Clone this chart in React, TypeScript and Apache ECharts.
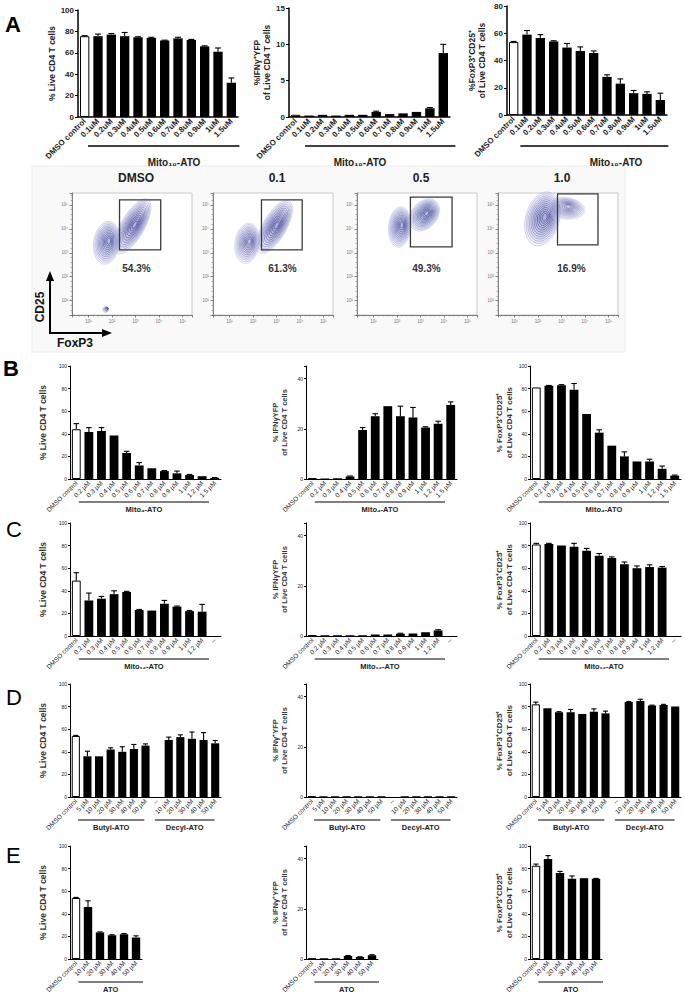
import React, { useEffect, useRef } from "react";
import * as echarts from "echarts";

const FONT = "'Liberation Sans', Arial, Helvetica, sans-serif";

// ---------- Panel A data ----------
const A_CATS = ["DMSO control", "0.1uM", "0.2uM", "0.3uM", "0.4uM", "0.5uM", "0.6uM", "0.7uM", "0.8uM", "0.9uM", "1uM", "1.5uM"];
const A_LIVE = [75.5, 75.5, 77, 75.5, 74.5, 74, 71.5, 73.5, 72, 66, 61, 32];
const A_LIVE_ERR = [0.5, 2, 1, 3.5, 0.5, 0.5, 0.3, 1, 0.5, 0.5, 3.5, 4.5];
const A_IFN = [0.3, 0.2, 0.3, 0.2, 0.3, 0.3, 0.7, 0.4, 0.5, 0.7, 1.2, 8.8];
const A_IFN_ERR = [0, 0, 0, 0, 0, 0, 0.1, 0, 0, 0, 0.1, 1.2];
const A_TREG = [53.5, 59, 56.5, 54, 49.5, 47, 45.5, 28, 23, 16, 15.5, 11];
const A_TREG_ERR = [0.5, 3, 2.5, 0.5, 3, 3, 1.5, 1.5, 3.5, 2, 1.5, 5];

// ---------- Panel B (Mito4-ATO) ----------
const B_CATS = ["DMSO control", "0.2 µM", "0.3 µM", "0.4 µM", "0.5 µM", "0.6 µM", "0.7 µM", "0.8 µM", "0.9 µM", "1 µM", "1.2 µM", "1.5 µM"];
const B_LIVE = [44, 41.5, 42.5, 38.5, 23, 12, 9.5, 7, 5, 3.5, 2.5, 1];
const B_LIVE_ERR = [5, 4, 3, 0, 1.5, 2.5, 0, 0.5, 2, 0.5, 0, 0.3];
const B_IFN = [0.3, 0.2, 0.3, 1, 19.5, 25, 29, 25, 24.5, 20.5, 22, 29.5];
const B_IFN_ERR = [0, 0, 0, 0.2, 1, 1, 0, 4, 4, 0.3, 1, 1.2];
const B_TREG = [81, 82.5, 83, 79, 57.5, 41, 29.5, 20, 15.5, 15.5, 9, 3];
const B_TREG_ERR = [0, 0.3, 0.5, 5.5, 0, 2.5, 0, 4, 0, 2, 2.5, 0.5];

// ---------- Panel C (Mito12-ATO) ----------
const C_CATS = ["DMSO control", "0.2 µM", "0.3 µM", "0.4 µM", "0.5 µM", "0.6 µM", "0.7 µM", "0.8 µM", "0.9 µM", "1 µM", "1.2 µM", "--"];
const C_LIVE = [49, 31.5, 33, 37, 39, 23, 22.5, 28.5, 26, 22, 21.5, null];
const C_LIVE_ERR = [7, 6.5, 2, 3, 0.5, 0.5, 0, 3, 0.5, 0.5, 6.5, null];
const C_IFN = [0.3, 0.3, 0.3, 0.3, 0.3, 0.6, 0.6, 0.9, 1, 1.5, 2.2, null];
const C_IFN_ERR = [0, 0, 0, 0, 0, 0, 0, 0.2, 0, 0, 0.3, null];
const C_TREG = [81, 81.5, 80, 79, 75.5, 71, 69, 63.5, 60, 61, 60.5, null];
const C_TREG_ERR = [1, 0.5, 0, 3, 2, 2, 1, 2, 2, 2, 1, null];

// ---------- Panel D (Butyl-ATO / Decyl-ATO) ----------
const D_CATS = ["DMSO control", "5 µM", "10 µM", "20 µM", "30 µM", "40 µM", "50 µM", "--", "10 µM", "20 µM", "30 µM", "40 µM", "50 µM"];
const D_LIVE = [54, 36, 36, 42, 40, 42.5, 45.5, null, 50.5, 53, 51.5, 50.5, 47.5];
const D_LIVE_ERR = [0.5, 4.5, 0, 1.5, 4.5, 4, 1.5, null, 2.5, 2, 6, 6.5, 2.5];
const D_IFN = [0.2, 0.3, 0.3, 0.3, 0.3, 0.3, 0.3, null, 0.3, 0.3, 0.3, 0.3, 0.3];
const D_IFN_ERR = [0, 0, 0, 0, 0, 0, 0, null, 0, 0, 0, 0, 0];
const D_TREG = [82, 78.5, 75, 75, 73.5, 75.5, 74, null, 84, 85, 81, 81.5, 80];
const D_TREG_ERR = [2, 0, 0.5, 2.5, 0, 2.5, 2, null, 0.5, 1.5, 0.3, 0.5, 0];

// ---------- Panel E (ATO) ----------
const E_CATS = ["DMSO control", "10 µM", "20 µM", "30 µM", "40 µM", "50 µM"];
const E_LIVE = [54, 46, 23.5, 21, 22, 19];
const E_LIVE_ERR = [0.5, 5.5, 0.5, 0.5, 0.5, 1.5];
const E_IFN = [0.1, 0.3, 0.3, 1.2, 0.8, 1.5];
const E_IFN_ERR = [0, 0, 0, 0.2, 0.1, 0.2];
const E_TREG = [82.5, 88.5, 76, 71, 71.5, 71];
const E_TREG_ERR = [1.5, 3, 1.5, 2.5, 0, 0.3];

// ---------- Flow cytometry (FoxP3 vs CD25, log10 units) ----------
const FLOW_TITLES = ["DMSO", "0.1", "0.5", "1.0"];
const FLOW_PCT = [54.3, 61.3, 49.3, 16.9];
// gate: [xMin, yMin, xMax, yMax, labelX, labelY]
const FLOW_GATES = [
  [2.32, 3.12, 4.07, 5.21, 3.04, 2.33],
  [2.36, 3.12, 4.09, 5.21, 3.25, 2.33],
  [2.57, 3.25, 4.34, 5.33, 3.25, 2.33],
  [2.83, 3.33, 4.55, 5.46, 3.42, 2.33],
];
// populations: [cx, cy, spreadX, spreadY, tiltDeg, density]
const FLOW_POPS_DMSO = [[1.77, 3.42, 0.55, 0.9, 8, 1], [2.87, 4.1, 0.5, 1.3, 30, 1.2], [1.72, 0.62, 0.12, 0.12, 0, 0.3]];
const FLOW_POPS_01 = [[1.75, 3.4, 0.52, 0.85, 8, 0.8], [2.91, 4.08, 0.5, 1.25, 30, 1.2]];
const FLOW_POPS_05 = [[2.11, 4.08, 0.47, 0.85, 5, 1], [3.16, 4.58, 0.55, 0.75, 40, 1.1]];
const FLOW_POPS_10 = [[2.19, 4.42, 0.72, 1.15, 15, 1.2], [3.2, 4.86, 0.8, 0.45, 8, 0.55]];
const FLOW_POPS = [FLOW_POPS_DMSO, FLOW_POPS_01, FLOW_POPS_05, FLOW_POPS_10];

const SUP = ["⁰", "¹", "²", "³", "⁴", "⁵", "⁶"];

type Panel = {
  left: number; top: number; width: number; height: number;
  cats: string[]; vals: (number | null)[]; errs: (number | null)[];
  yMax: number; yInterval: number; yName: string; nameGap: number; nameSize: number; big: boolean;
  groups: { s: number; e: number; text: string; lx?: number }[];
};

const ROW_BOTTOM = { B: 479, C: 636, D: 797, E: 959 };
const H = 113;
const COL_LEFT = [70, 306, 530];
const LIVE_NAME = "% Live CD4 T cells";
const IFN_NAME_PLAIN = "% IFNγYFP\nof Live CD4 T cells";
const IFN_NAME_SUP = "% IFNγ⁺YFP\nof Live CD4 T cells";
const TREG_NAME = "% FoxP3⁺CD25⁺\nof Live CD4 T cells";

function rowPanels(bottom: number, cats: string[], width: number, sets: [number | null, number | null][][], ifnName: string, groups: { s: number; e: number; text: string }[]): Panel[] {
  const names = [LIVE_NAME, ifnName, TREG_NAME];
  const maxes = [100, 45, 100];
  const gaps = [22, 17, 16];
  const sizes = [8.5, 7.5, 8];
  return sets.map((set, i) => ({
    left: COL_LEFT[i], top: bottom - H, width, height: H,
    cats, vals: set.map((d) => d[0]), errs: set.map((d) => d[1]),
    yMax: maxes[i], yInterval: 20, yName: names[i], nameGap: gaps[i], nameSize: sizes[i], big: false, groups,
  }));
}
const zip = (a: (number | null)[], b: (number | null)[]) => a.map((v, i) => [v, b[i]] as [number | null, number | null]);

const PANELS: Panel[] = [
  { left: 78, top: 10, width: 160, height: 107, cats: A_CATS, vals: A_LIVE, errs: A_LIVE_ERR, yMax: 100, yInterval: 20, yName: "% Live CD4 T cells", nameGap: 21, nameSize: 8.5, big: true, groups: [{ s: 0.75, e: 12.1, text: "Mito₁₀-ATO", lx: 174 }] },
  { left: 289, top: 8, width: 161, height: 109, cats: A_CATS, vals: A_IFN, errs: A_IFN_ERR, yMax: 15, yInterval: 5, yName: "%IFNγ⁺YFP\nof Live CD4 T cells", nameGap: 12, nameSize: 8.5, big: true, groups: [{ s: 1.2, e: 12.4, text: "Mito₁₀-ATO", lx: 360 }] },
  { left: 507, top: 6, width: 160, height: 109, cats: A_CATS, vals: A_TREG, errs: A_TREG_ERR, yMax: 80, yInterval: 20, yName: "%FoxP3⁺CD25⁺\nof Live CD4 T cells", nameGap: 20, nameSize: 8.5, big: true, groups: [{ s: 1.0, e: 12.1, text: "Mito₁₀-ATO", lx: 616 }] },
  ...rowPanels(ROW_BOTTOM.B, B_CATS, 151, [zip(B_LIVE, B_LIVE_ERR), zip(B_IFN, B_IFN_ERR), zip(B_TREG, B_TREG_ERR)], IFN_NAME_PLAIN, [{ s: 0.7, e: 11.05, text: "Mito₄-ATO" }]),
  ...rowPanels(ROW_BOTTOM.C, C_CATS, 151, [zip(C_LIVE, C_LIVE_ERR), zip(C_IFN, C_IFN_ERR), zip(C_TREG, C_TREG_ERR)], IFN_NAME_PLAIN, [{ s: 0.7, e: 11.05, text: "Mito₁₂-ATO" }]),
  ...rowPanels(ROW_BOTTOM.D, D_CATS, 151, [zip(D_LIVE, D_LIVE_ERR), zip(D_IFN, D_IFN_ERR), zip(D_TREG, D_TREG_ERR)], IFN_NAME_SUP, [{ s: 0.7, e: 6.4, text: "Butyl-ATO" }, { s: 7.3, e: 12.45, text: "Decyl-ATO" }]),
  ...rowPanels(ROW_BOTTOM.E, E_CATS, 72, [zip(E_LIVE, E_LIVE_ERR), zip(E_IFN, E_IFN_ERR), zip(E_TREG, E_TREG_ERR)], IFN_NAME_SUP, [{ s: 0.7, e: 6.08, text: "ATO" }]),
];

const FLOW_LEFTS = [72, 213, 357, 498];
const FLOW_TOP = 193;
const FLOW_W = 120;
const FLOW_H = 122;

function errRender(_p: any, api: any) {
  const x = api.value(0), v = api.value(1), e = api.value(2);
  const p0 = api.coord([x, v]);
  const p1 = api.coord([x, v + e]);
  const hw = api.size([1, 0])[0] * 0.22;
  const st = { stroke: "#000", lineWidth: 1.1 };
  return {
    type: "group",
    children: [
      { type: "line", shape: { x1: p0[0], y1: p0[1], x2: p1[0], y2: p1[1] }, style: st },
      { type: "line", shape: { x1: p1[0] - hw, y1: p1[1], x2: p1[0] + hw, y2: p1[1] }, style: st },
    ],
  };
}

function mix(a: number[], b: number[], t: number) {
  return a.map((v, i) => Math.round(v + (b[i] - v) * t));
}

function contourRender(_p: any, api: any) {
  const cx = api.value(0), cy = api.value(1), a = api.value(2), b = api.value(3), rot = api.value(4), w = api.value(5);
  const c = api.coord([cx, cy]);
  const rx = Math.abs(api.size([a, 0])[0]);
  const ry = Math.abs(api.size([0, b])[1]);
  const n = 12;
  const children: any[] = [];
  const light = [190, 194, 232];
  const dark = [66, 70, 148];
  for (let k = 0; k < n; k++) {
    const t = k / (n - 1);
    const s = 1 - t * 0.86;
    const col = mix(light, dark, Math.min(1, t * 1.3));
    const alpha = Math.min(1, 0.45 + 0.5 * w);
    children.push({
      type: "ellipse",
      x: c[0] + k * 0.2,
      y: c[1] - k * 0.15,
      rotation: (-rot * Math.PI) / 180,
      shape: { cx: 0, cy: 0, rx: rx * s, ry: ry * s },
      style: { fill: `rgba(125,130,200,${(0.06 * w).toFixed(3)})`, stroke: `rgba(${col[0]},${col[1]},${col[2]},${alpha.toFixed(2)})`, lineWidth: 0.6 },
    });
  }
  return { type: "group", children };
}

function gateRender(_p: any, api: any) {
  const x1 = api.value(0), y1 = api.value(1), x2 = api.value(2), y2 = api.value(3), lx = api.value(4), ly = api.value(5), pct = api.value(6);
  const tl = api.coord([x1, y2]);
  const br = api.coord([x2, y1]);
  const lp = api.coord([lx, ly]);
  return {
    type: "group",
    children: [
      { type: "rect", shape: { x: tl[0], y: tl[1], width: br[0] - tl[0], height: br[1] - tl[1] }, style: { fill: "none", stroke: "#3a3a3a", lineWidth: 1.3 } },
      {
        type: "text", x: lp[0], y: lp[1],
        style: { text: pct.toFixed(1) + "%", fill: "#333", font: `bold 10px ${FONT}`, align: "center", verticalAlign: "middle" },
      },
    ],
  };
}

function buildOption() {
  const grid: any[] = [];
  const xAxis: any[] = [];
  const yAxis: any[] = [];
  const series: any[] = [];
  const graphic: any[] = [];

  // flow background
  graphic.push({ type: "rect", z: -10, shape: { x: 32, y: 166, width: 593, height: 186 }, style: { fill: "#f9f9f9", stroke: "#ededed", lineWidth: 1 } });

  PANELS.forEach((p, i) => {
    const big = p.big;
    grid.push({ left: p.left, top: p.top, width: p.width, height: p.height });
    xAxis.push({
      type: "category", gridIndex: i, data: p.cats, boundaryGap: true,
      axisLine: { lineStyle: { color: "#000", width: big ? 1.5 : 1 } },
      axisTick: { alignWithLabel: true, length: big ? 3 : 2, lineStyle: { color: "#000" } },
      axisLabel: { interval: 0, rotate: 45, margin: 3, fontSize: big ? 8 : 6.5, fontWeight: big ? "bold" : "normal", color: "#222", fontFamily: FONT },
      splitLine: { show: false },
    });
    yAxis.push({
      type: "value", gridIndex: i, min: 0, max: p.yMax, interval: p.yInterval,
      splitLine: { show: false },
      axisLine: { show: true, lineStyle: { color: "#000", width: big ? 1.5 : 1 } },
      axisTick: { show: true, length: big ? 3 : 2, lineStyle: { color: "#000" } },
      axisLabel: {
        fontSize: big ? 8 : 5, fontWeight: big ? "bold" : "normal", color: "#222", margin: big ? 4 : 3, fontFamily: FONT,
        formatter: (v: number) => (v % p.yInterval === 0 ? String(v) : ""),
      },
      name: p.yName, nameLocation: "middle", nameGap: p.nameGap,
      nameTextStyle: { fontSize: p.nameSize, fontWeight: "bold", color: big ? "#222" : "#333", fontFamily: FONT, lineHeight: big ? 10 : p.nameSize + 1.5 },
    });
    series.push({
      type: "bar", xAxisIndex: i, yAxisIndex: i, barWidth: "70%", silent: true,
      data: p.vals.map((v, j) =>
        v == null ? "-" : { value: v, itemStyle: j === 0 ? { color: "#fff", borderColor: "#000", borderWidth: 1 } : { color: "#000" } }
      ),
    });
    series.push({
      type: "custom", xAxisIndex: i, yAxisIndex: i, z: 5, silent: true,
      renderItem: errRender,
      data: p.errs.map((e, j) => [j, p.vals[j], e]).filter((d) => d[1] != null && d[2] != null && (d[2] as number) > 0),
    });

    // group underlines and labels
    const catW = p.width / p.cats.length;
    const bottom = p.top + p.height;
    p.groups.forEach((g) => {
      const x1 = p.left + catW * g.s;
      const x2 = p.left + catW * g.e;
      const uy = big ? 146 : bottom + 23;
      const ly = big ? 162 : bottom + 30;
      graphic.push({ type: "line", shape: { x1, y1: uy, x2, y2: uy }, style: { stroke: "#000", lineWidth: big ? 1.6 : 1 } });
      graphic.push({
        type: "text", x: g.lx != null ? g.lx : (x1 + x2) / 2, y: ly,
        style: { text: g.text, fill: "#222", font: `${big ? "bold 10px" : "bold 7.5px"} ${FONT}`, align: "center", verticalAlign: "middle" },
      });
    });
  });

  // flow grids
  const base = PANELS.length;
  const fmt = (v: number) => (Math.abs(v - Math.round(v)) < 1e-6 ? "10" + SUP[Math.round(v)] : "");
  FLOW_LEFTS.forEach((left, k) => {
    const gi = base + k;
    grid.push({ left, top: FLOW_TOP, width: FLOW_W, height: FLOW_H, show: true, backgroundColor: "#fff", borderColor: "#c9c9c9", borderWidth: 1 });
    const axisCommon = {
      type: "value", gridIndex: gi, splitLine: { show: false },
      axisLine: { show: true, lineStyle: { color: "#666", width: 0.8 } },
      axisTick: { show: true, length: 2.5, lineStyle: { color: "#666", width: 0.8 } },
      minorTick: { show: true, splitNumber: 5, length: 1.5, lineStyle: { color: "#888", width: 0.6 } },
      axisLabel: { fontSize: 4.5, color: "#777", margin: 4, fontFamily: FONT, formatter: fmt },
    };
    xAxis.push({ ...axisCommon, min: 0.3, max: 5.4 });
    yAxis.push({ ...axisCommon, min: 0.4, max: 5.5 });
    series.push({ type: "custom", xAxisIndex: gi, yAxisIndex: gi, silent: true, renderItem: contourRender, data: FLOW_POPS[k] });
    series.push({ type: "custom", xAxisIndex: gi, yAxisIndex: gi, silent: true, z: 6, renderItem: gateRender, data: [[...FLOW_GATES[k], FLOW_PCT[k]]] });
    graphic.push({
      type: "text", x: left + 64, y: 178,
      style: { text: FLOW_TITLES[k], fill: "#222", font: `bold 12px ${FONT}`, align: "center", verticalAlign: "middle" },
    });
  });

  // CD25 / FoxP3 axis arrows
  graphic.push({ type: "line", shape: { x1: 50, y1: 333, x2: 50, y2: 279 }, style: { stroke: "#000", lineWidth: 2 } });
  graphic.push({ type: "polygon", shape: { points: [[46, 281], [54, 281], [50, 271]] }, style: { fill: "#000" } });
  graphic.push({ type: "line", shape: { x1: 49, y1: 333, x2: 104, y2: 333 }, style: { stroke: "#000", lineWidth: 2 } });
  graphic.push({ type: "polygon", shape: { points: [[102, 329], [102, 337], [112, 333]] }, style: { fill: "#000" } });
  graphic.push({ type: "text", x: 40, y: 307, rotation: Math.PI / 2, style: { text: "CD25", fill: "#111", font: `bold 12px ${FONT}`, align: "center", verticalAlign: "middle" } });
  graphic.push({ type: "text", x: 75, y: 343, style: { text: "FoxP3", fill: "#111", font: `bold 12px ${FONT}`, align: "center", verticalAlign: "middle" } });

  // panel letters
  const letters: [string, number, number, string][] = [
    ["A", 5, 24, "bold"],
    ["B", 3, 368, "bold"],
    ["C", 6, 529, "normal"],
    ["D", 6, 697, "normal"],
    ["E", 6, 855, "normal"],
  ];
  letters.forEach(([t, x, y, w]) => {
    graphic.push({ type: "text", x, y, style: { text: t, fill: "#000", font: `${w} 22px ${FONT}`, align: "left", verticalAlign: "middle" } });
  });

  return { animation: false, backgroundColor: "#fff", grid, xAxis, yAxis, series, graphic };
}

export default function App() {
  const ref = useRef<HTMLDivElement>(null);
  useEffect(() => {
    if (!ref.current) return;
    const chart = echarts.init(ref.current, undefined, { renderer: "svg" });
    chart.setOption(buildOption() as any);
    return () => chart.dispose();
  }, []);
  return <div ref={ref} style={{ position: "absolute", left: 0, top: 0, width: 685, height: 998, background: "#fff" }} />;
}
